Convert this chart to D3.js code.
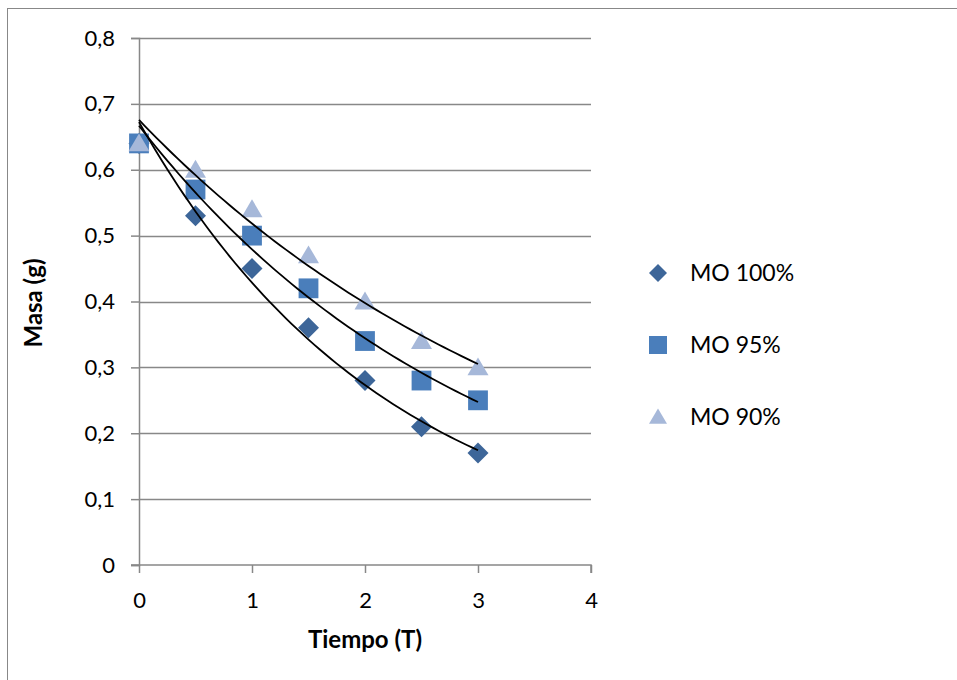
<!DOCTYPE html>
<html>
<head>
<meta charset="utf-8">
<script src="https://cdn.jsdelivr.net/npm/d3@7"></script>
<style>
  html, body { margin: 0; padding: 0; background: #fff; }
  svg { display: block; font-family: Lato, "Open Sans", "Liberation Sans", sans-serif; }
</style>
</head>
<body>
<svg id="chart" width="957" height="680"></svg>
<script>
// Mass over time for three organic-matter levels
const tiempo = [0, 0.5, 1, 1.5, 2, 2.5, 3];
const mo100 = [0.64, 0.53, 0.45, 0.36, 0.28, 0.21, 0.17];
const mo95  = [0.64, 0.57, 0.50, 0.42, 0.34, 0.28, 0.25];
const mo90  = [0.64, 0.60, 0.54, 0.47, 0.40, 0.34, 0.30];
const seriesNames = ["MO 100%", "MO 95%", "MO 90%"];
const xTicks = [0, 1, 2, 3, 4];
const yTicks = [0, 0.1, 0.2, 0.3, 0.4, 0.5, 0.6, 0.7, 0.8];

const series = [
  { name: seriesNames[0], values: mo100, shape: "diamond",  color: "#3D6699" },
  { name: seriesNames[1], values: mo95,  shape: "square",   color: "#4A7EBB" },
  { name: seriesNames[2], values: mo90,  shape: "triangle", color: "#A6B8D9" }
];

const svg = d3.select("#chart");
const grid = "#888888";
const font = "Lato, 'Open Sans', sans-serif";

// Outer chart frame
svg.append("rect").attr("x", 7.5).attr("y", 8.5).attr("width", 970).attr("height", 700)
  .attr("fill", "none").attr("stroke", grid).attr("stroke-width", 1);

const x = d3.scaleLinear().domain([0, 4]).range([139, 591]);
const y = d3.scaleLinear().domain([0, 0.8]).range([565, 38]);

// Horizontal gridlines
svg.append("g").selectAll("line").data(yTicks.filter(d => d > 0)).join("line")
  .attr("x1", x(0)).attr("x2", x(4))
  .attr("y1", d => Math.round(y(d)) + 0.5).attr("y2", d => Math.round(y(d)) + 0.5)
  .attr("stroke", grid).attr("stroke-width", 1.5);

// Y axis
const yAxis = svg.append("g").attr("transform", `translate(${x(0)},0)`)
  .call(d3.axisLeft(y).tickValues(yTicks).tickSize(8).tickPadding(16)
    .tickFormat(d => d === 0 ? "0" : d3.format(".1f")(d).replace(".", ",")));
yAxis.select(".domain").attr("stroke", grid).attr("stroke-width", 1.5);
yAxis.selectAll(".tick line").attr("stroke", grid).attr("stroke-width", 1.5);
yAxis.selectAll(".tick text").attr("fill", "#000").style("font-size", "22px")
  .style("font-family", font);

// X axis
const xAxis = svg.append("g").attr("transform", `translate(0,${y(0)})`)
  .call(d3.axisBottom(x).tickValues(xTicks).tickSize(8).tickPadding(19).tickFormat(d3.format("d")));
xAxis.select(".domain").attr("stroke", grid).attr("stroke-width", 1.5)
  .attr("d", `M${x(0) - 8},0H${x(4)}V8`);
xAxis.selectAll(".tick line").attr("stroke", grid).attr("stroke-width", 1.5);
xAxis.selectAll(".tick text").attr("fill", "#000").style("font-size", "22px")
  .style("font-family", font);

// Axis titles
svg.append("text").attr("x", 365).attr("y", 648).attr("text-anchor", "middle")
  .style("font-size", "24px").style("font-weight", "bold").text("Tiempo (T)");
svg.append("text").attr("transform", "translate(42,303) rotate(-90)").attr("text-anchor", "middle")
  .style("font-size", "24px").style("font-weight", "bold").text("Masa (g)");

// Marker shapes
function markerPath(shape, s) {
  if (shape === "diamond") return `M0,${-s}L${s},0L0,${s}L${-s},0Z`;
  if (shape === "square") return `M${-s * 0.9},${-s * 0.9}H${s * 0.9}V${s * 0.9}H${-s * 0.9}Z`;
  return `M0,${-s * 0.95}L${s},${s * 0.75}H${-s}Z`;
}

// Markers: lightest series drawn last so triangles sit on top at t=0
series.forEach(s => {
  svg.append("g").selectAll("path").data(tiempo.map((t, i) => [t, s.values[i]])).join("path")
    .attr("transform", d => `translate(${x(d[0])},${y(d[1])})`)
    .attr("d", markerPath(s.shape, s.shape === "square" ? 11 : 10.5))
    .attr("fill", s.color);
});

// Exponential trendlines (least squares on ln y)
function expFit(xs, ys) {
  const ly = ys.map(Math.log);
  const mx = d3.mean(xs), my = d3.mean(ly);
  let sxy = 0, sxx = 0;
  xs.forEach((v, i) => { sxy += (v - mx) * (ly[i] - my); sxx += (v - mx) ** 2; });
  const b = sxy / sxx;
  const a = Math.exp(my - b * mx);
  return t => a * Math.exp(b * t);
}
const line = d3.line().x(d => x(d[0])).y(d => y(d[1]));
series.forEach(s => {
  const f = expFit(tiempo, s.values);
  const pts = d3.range(0, 3.0001, 0.05).map(t => [t, f(t)]);
  svg.append("path").attr("d", line(pts)).attr("fill", "none")
    .attr("stroke", "#000").attr("stroke-width", 1.8);
});

// Legend
const legend = svg.append("g");
series.forEach((s, i) => {
  const ly = 273 + i * 72;
  legend.append("path").attr("transform", `translate(658,${ly})`)
    .attr("d", markerPath(s.shape, s.shape === "square" ? 10 : 9)).attr("fill", s.color);
  legend.append("text").attr("x", 690).attr("y", ly).attr("dy", "0.35em")
    .style("font-size", "23px").style("font-family", font).text(s.name);
});
</script>
</body>
</html>
